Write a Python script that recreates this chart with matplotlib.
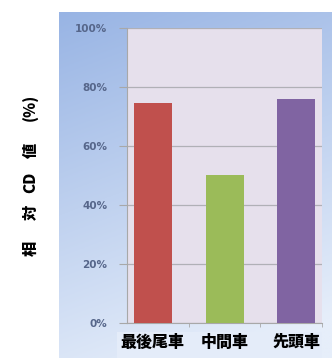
import matplotlib
matplotlib.use('Agg')

import matplotlib.pyplot as plt
import numpy as np

plt.rcParams['font.family'] = ['Noto Sans CJK JP', 'DejaVu Sans']

# data
categories = ['最後尾車', '中間車', '先頭車']
values = [74.6, 50.0, 75.9]
bar_colors = ['#c0504d', '#9bbb59', '#8064a2']
yticks = [0, 20, 40, 60, 80, 100]
ylabel_parts = ['相', '対', 'CD', '値', '(%)']

fig = plt.figure(figsize=(3.32, 3.58), dpi=100)

# blue gradient panel behind the chart
bg = fig.add_axes([0.178, 0.0, 0.822, 0.966])
ny, nx = 200, 200
yy, xx = np.mgrid[0:1:ny * 1j, 0:1:nx * 1j]
top = np.array([152, 180, 228]) / 255
bot = np.array([230, 238, 250]) / 255
t = np.clip(yy * 0.85 + xx * 0.25, 0, 1)[..., None]
grad = top * (1 - t) + bot * t
bg.imshow(grad, aspect='auto', extent=[0, 1, 1, 0])
bg.set_axis_off()

# light strip under category labels
strip = fig.add_axes([0.352, 0.0, 0.618, 0.073])
strip.set_facecolor('#e4ecf9')
strip.set_xticks([])
strip.set_yticks([])
for s in strip.spines.values():
    s.set_visible(False)

ax = fig.add_axes([0.3825, 0.0978, 0.5875, 0.8242])
ax.set_facecolor('#e6e0ec')
x = np.arange(len(categories))
ax.bar(x, values, width=0.53, color=bar_colors, zorder=3)
ax.set_xlim(-0.36, 2.36)
ax.set_ylim(0, 100)
ax.set_yticks(yticks)
ax.set_yticklabels([f'{v}%' for v in yticks], fontsize=7.5, color='#56668a',
                   fontweight='semibold', family=['DejaVu Sans'])
ax.tick_params(axis='y', length=6, color='#a8a8a8', pad=8)
ax.grid(axis='y', color='#b0b0b6', linewidth=0.9, zorder=1)

ax.set_xticks(x)
ax.set_xticklabels(categories, fontsize=11.5, fontweight='black', color='black')
ax.tick_params(axis='x', length=0, pad=8)
ax.set_xticks([0.5, 1.5, 2.36], minor=True)
ax.tick_params(axis='x', which='minor', length=3, color='#a8a8a8')

for side in ['top', 'right']:
    ax.spines[side].set_visible(False)
for side in ['left', 'bottom']:
    ax.spines[side].set_color('#a8a8a8')

# y label, spaced out like the reference
label_y = [248, 212, 182, 150, 107]
for part, py in zip(ylabel_parts, label_y):
    fig.text(31 / 332, 1 - py / 358, part, rotation=90, ha='center', va='center',
             fontsize=11, fontweight='black', color='black')

fig.savefig('out.png', dpi=100)
